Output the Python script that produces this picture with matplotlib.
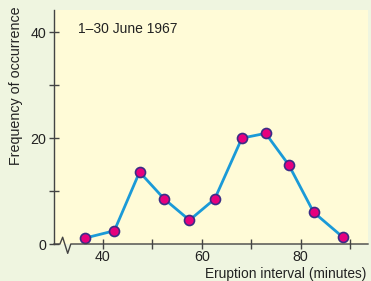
import matplotlib.pyplot as plt
from matplotlib.ticker import MultipleLocator

# eruption interval (minutes) vs. frequency
intervals = [36.3, 42.3, 47.4, 52.4, 57.5, 62.6, 68.1, 72.9, 77.6, 82.6, 88.5]
frequency = [1.1, 2.5, 13.6, 8.5, 4.5, 8.5, 20.0, 20.9, 14.9, 6.0, 1.3]
period_label = "1\u201330 June 1967"

FIG_BG = "#EFF5E0"
AX_BG = "#FFFBD7"
LINE = "#1A9AD7"
DOT = "#E6007E"
DOT_EDGE = "#3B2C86"
INK = "#444444"

plt.rcParams["font.family"] = ["Liberation Sans", "DejaVu Sans"]

fig = plt.figure(figsize=(3.71, 2.81), dpi=100, facecolor=FIG_BG)
ax = fig.add_axes([54 / 371, 37 / 281, 314 / 371, 234 / 281], facecolor=AX_BG)

ax.plot(intervals, frequency, color=LINE, lw=2.0, marker="o", ms=7.2,
        mfc=DOT, mec=DOT_EDGE, mew=1.2, zorder=3, clip_on=False)

ax.set_xlim(30.1, 93.6)
ax.set_ylim(0, 44.2)

ax.xaxis.set_major_locator(MultipleLocator(20))
ax.xaxis.set_minor_locator(MultipleLocator(10))
ax.yaxis.set_major_locator(MultipleLocator(20))
ax.yaxis.set_minor_locator(MultipleLocator(10))
ax.set_xticks([40, 60, 80])

for side in ("top", "right", "bottom"):
    ax.spines[side].set_visible(False)
ax.spines["left"].set_color(INK)
ax.spines["left"].set_linewidth(1.0)

ax.tick_params(which="both", direction="inout", length=7, width=1.0,
               color=INK, labelcolor="#222222", labelsize=10.3)
ax.tick_params(axis="x", which="both", pad=1)
ax.tick_params(axis="y", which="both", pad=2)

# bottom axis with a zigzag break near the origin
trans = ax.get_xaxis_transform()
ax.plot([30.1, 31.3, 31.85, 32.87, 33.5, 93.6],
        [0, 0, 0.029, -0.040, 0, 0],
        transform=trans, color=INK, lw=1.0, clip_on=False, zorder=4)

ax.text(0.075, 0.95, period_label, transform=ax.transAxes, fontsize=10,
        color="#222222", va="top", ha="left")

fig.text(16 / 371, 1 - 86 / 281, "Frequency of occurrence", rotation=90,
         fontsize=10.3, color="#222222", ha="center", va="center")
fig.text(205 / 371, 1 - 274 / 281, "Eruption interval (minutes)",
         fontsize=9.9, color="#222222", ha="left", va="center")

fig.savefig("out.png", dpi=100, facecolor=FIG_BG)
